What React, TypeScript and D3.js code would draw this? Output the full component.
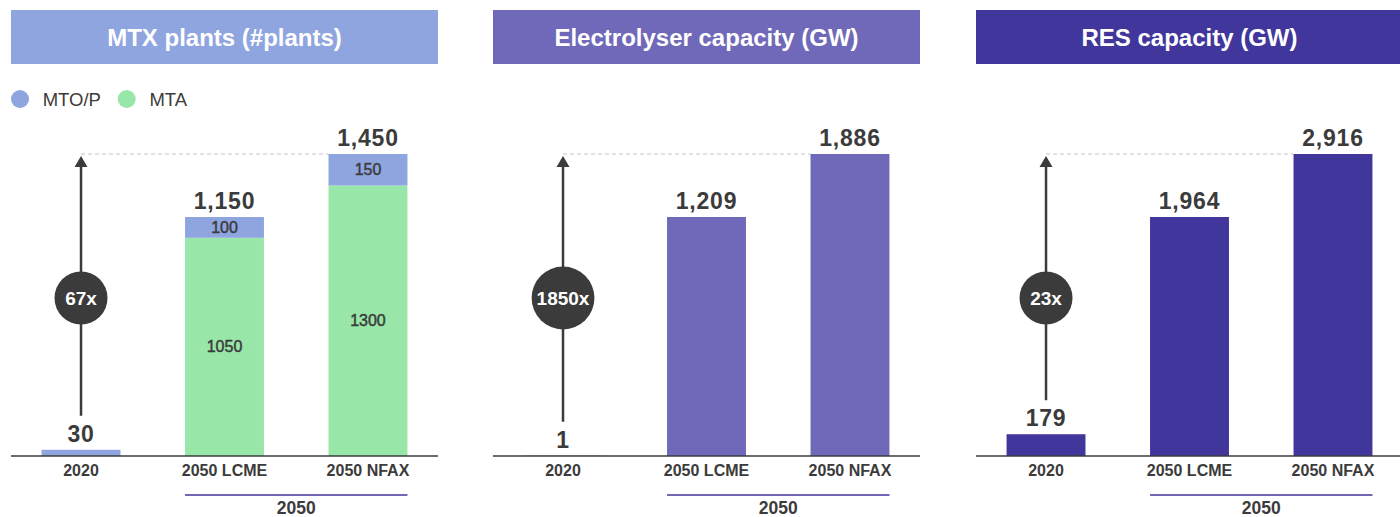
import React from "react";
import * as d3 from "d3";

const categories = ["2020", "2050 LCME", "2050 NFAX"];
const mtoValues = [30, 100, 150];
const mtaValues = [0, 1050, 1300];
const electrolyserValues = [1, 1209, 1886];
const resValues = [179, 1964, 2916];
const multipliers = ["67x", "1850x", "23x"];
const panelTitles = ["MTX plants (#plants)", "Electrolyser capacity (GW)", "RES capacity (GW)"];
const legendLabels = ["MTO/P", "MTA"];
const groupLabel = "2050";

const W = 1400;
const H = 517;
const FONT = "'Liberation Sans', Arial, sans-serif";
const DARK = "#3b3b3b";
const C_MTO = "#8fa5e0";
const C_MTA = "#98e6a8";
const C_ELEC = "#7068b8";
const C_RES = "#41369c";

const panelX = [11, 493, 976];
const panelW = 427;
const baseY = 456;
const lcmeTopY = 217;
const nfaxTopY = 154;
const fmt = d3.format(",");

type Seg = { value: number; color: string; label?: string };

function Panel({ idx, stacks, totals }: { idx: number; stacks: Seg[][]; totals: number[] }) {
  const x0 = panelX[idx];
  const x = d3.scaleBand<string>().domain(categories).range([0, panelW]).paddingInner(0.45).paddingOuter(0.213);
  // visual (non-uniform) value scale used by the original infographic
  const y = d3.scaleLinear().domain([0, totals[1], totals[2]]).range([baseY, lcmeTopY, nfaxTopY]);
  const bw = x.bandwidth();
  const cx = (c: string) => (x(c) as number) + bw / 2;
  const titleColor = [C_MTO, C_ELEC, C_RES][idx];
  const firstTop = y(totals[0]);
  const labelBase0 = firstTop - 8;
  const arrowBottom = labelBase0 - 16 - 10;
  const arrowTip = y(totals[2]) + 2;
  const ax = cx(categories[0]);
  const badgeY = baseY - 158;
  const mult = multipliers[idx];
  const r = Math.max(26.5, (mult.length * 10.56) / 2 + 5);
  return (
    <g transform={`translate(${x0},0)`}>
      <rect x={0} y={10} width={panelW} height={54} fill={titleColor} />
      <text x={panelW / 2} y={45.5} textAnchor="middle" fill="#fff" fontFamily={FONT} fontWeight="bold" fontSize={24}>
        {panelTitles[idx]}
      </text>
      {idx === 0 &&
        legendLabels.map((l, i) => {
          const lx = [9, 115.7][i];
          return (
            <g key={l}>
              <circle cx={lx} cy={99} r={9} fill={[C_MTO, C_MTA][i]} />
              <text x={lx + 22.7} y={106} fill={DARK} fontFamily={FONT} fontSize={18.5}>
                {l}
              </text>
            </g>
          );
        })}
      {/* dashed reference line */}
      <line x1={ax} x2={x(categories[2]) as number} y1={y(totals[2])} y2={y(totals[2])} stroke="#c4c4c4" strokeWidth={1.2} strokeDasharray="4,3" />
      {/* bars */}
      {categories.map((c, i) => {
        let acc = 0;
        return (
          <g key={c}>
            {stacks[i].map((s, j) => {
              const y1 = y(acc);
              acc += s.value;
              const y2 = y(acc);
              if (s.value <= 0) return null;
              return (
                <g key={j}>
                  <rect x={x(c)} y={y2} width={bw} height={Math.max(0, y1 - y2)} fill={s.color} />
                  {s.label && (
                    <text x={cx(c)} y={(y1 + y2) / 2 + 5.5} textAnchor="middle" fill={DARK} stroke={DARK} strokeWidth={0.45} fontFamily={FONT} fontSize={16}>
                      {s.label}
                    </text>
                  )}
                </g>
              );
            })}
            <text x={cx(c)} y={y(totals[i]) - 8} textAnchor="middle" fill={DARK} fontFamily={FONT} fontWeight="bold" fontSize={23} letterSpacing={0.8}>
              {fmt(totals[i])}
            </text>
            <text x={cx(c)} y={476} textAnchor="middle" fill={DARK} fontFamily={FONT} fontWeight="bold" fontSize={16}>
              {c}
            </text>
          </g>
        );
      })}
      {/* arrow */}
      <line x1={ax} x2={ax} y1={arrowBottom} y2={arrowTip + 8} stroke={DARK} strokeWidth={2.5} />
      <path d={`M${ax},${arrowTip} L${ax - 6.5},${arrowTip + 11} L${ax + 6.5},${arrowTip + 11} Z`} fill={DARK} />
      <circle cx={ax} cy={badgeY} r={r} fill={DARK} />
      <text x={ax} y={badgeY + 7} textAnchor="middle" fill="#fff" fontFamily={FONT} fontWeight="bold" fontSize={19}>
        {mult}
      </text>
      {/* axis */}
      <line x1={0} x2={panelW} y1={baseY} y2={baseY} stroke={DARK} strokeWidth={1.6} />
      {/* group bracket */}
      <line x1={x(categories[1]) as number} x2={(x(categories[2]) as number) + bw} y1={495} y2={495} stroke={C_RES} strokeWidth={1.5} />
      <text x={((x(categories[1]) as number) + (x(categories[2]) as number) + bw) / 2} y={514} textAnchor="middle" fill={DARK} fontFamily={FONT} fontWeight="bold" fontSize={17.5}>
        {groupLabel}
      </text>
    </g>
  );
}

export default function App() {
  const mtxStacks: Seg[][] = categories.map((_, i) => [
    { value: mtaValues[i], color: C_MTA, label: i > 0 ? String(mtaValues[i]) : undefined },
    { value: mtoValues[i], color: C_MTO, label: i > 0 ? String(mtoValues[i]) : undefined },
  ]);
  const mtxTotals = categories.map((_, i) => mtoValues[i] + mtaValues[i]);
  const elecStacks: Seg[][] = electrolyserValues.map((v) => [{ value: v, color: C_ELEC }]);
  const resStacks: Seg[][] = resValues.map((v) => [{ value: v, color: C_RES }]);
  return (
    <div style={{ position: "absolute", left: 0, top: 0 }}>
      <svg width={W} height={H} style={{ display: "block", background: "#fff" }}>
        <Panel idx={0} stacks={mtxStacks} totals={mtxTotals} />
        <Panel idx={1} stacks={elecStacks} totals={electrolyserValues} />
        <Panel idx={2} stacks={resStacks} totals={resValues} />
      </svg>
    </div>
  );
}
